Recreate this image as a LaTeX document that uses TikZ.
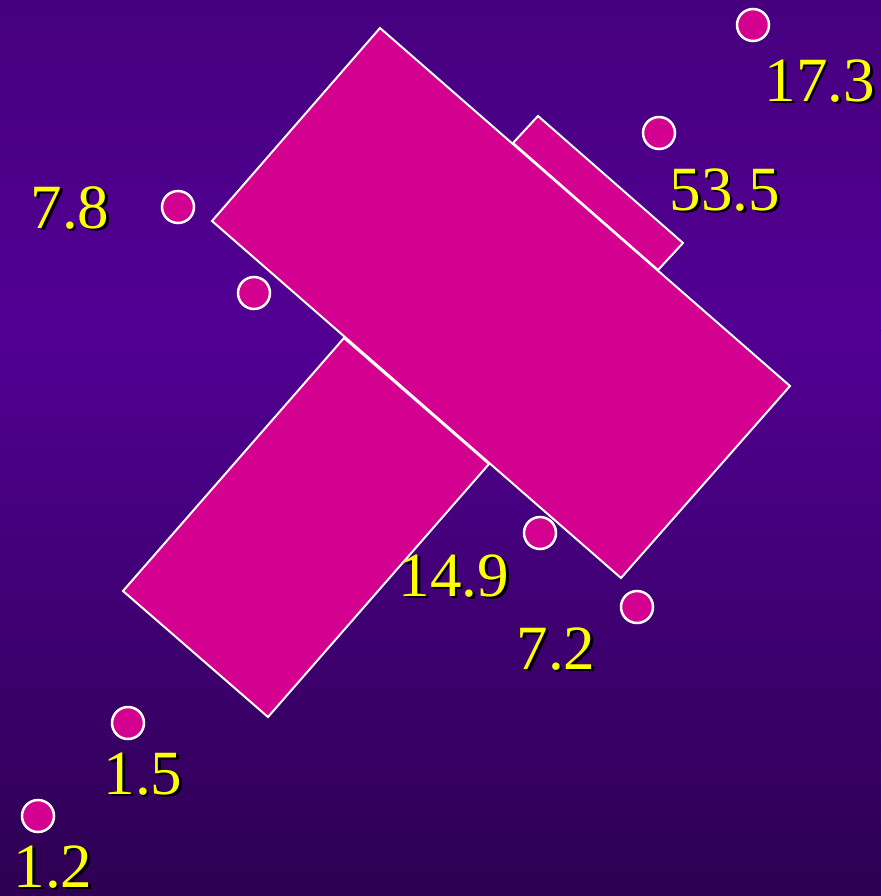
\documentclass[tikz,border=0pt]{standalone}
\usepackage{fontspec}
\setmainfont{Liberation Serif}
\usepackage{xcolor}
\usepackage{tikz}
\usetikzlibrary{positioning}
\definecolor{bgtop}{RGB}{70,0,126}
\definecolor{bgmid}{RGB}{82,0,148}
\definecolor{bgbot}{RGB}{45,0,82}
\definecolor{slab}{RGB}{212,0,143}
\definecolor{numyel}{RGB}{255,255,0}
\newcommand{\dropnum}[1]{\rlap{\kern2.5pt\raisebox{-2.5pt}{\color{black}#1}}#1}

\begin{document}
\begin{tikzpicture}[x=1pt, y=-1pt,
    slabpart/.style={fill=slab, draw=white, line width=2pt, line join=miter},
    dot/.style={circle, fill=slab, draw=white, line width=2.5pt, minimum size=32pt, inner sep=0pt},
    num/.style={text=numyel, font=\fontsize{63}{63}\selectfont, inner sep=0pt},
]
    % background
    \useasboundingbox (0,0) rectangle (881,896);
    \shade[top color=bgtop, bottom color=bgmid] (0,0) rectangle (881,331);
    \shade[top color=bgmid, bottom color=bgbot] (0,329) rectangle (881,896);

    % slabs
    \draw[slabpart] (344,338) -- (489,464) -- (268,717) -- (123,591) -- cycle;
    \draw[slabpart] (513,143) -- (538,116) -- (683,243) -- (658,270) -- cycle;
    \draw[slabpart] (380,28) -- (790,386) -- (621,578) -- (212,221) -- cycle;

    % dots and values
    \node[dot] (d173) at (753,25) {};
    \node[dot] (d535) at (659,133) {};
    \node[dot] (d78) at (178,207) {};
    \node[dot] (d78b) at (254,293) {};
    \node[dot] (d149) at (540,533) {};
    \node[dot] (d72) at (637,607) {};
    \node[dot] (d15) at (128,723) {};
    \node[dot] (d12) at (38,816) {};

    \node[num] (n173) at (820,82) {\dropnum{17.3}};
    \node[num] (n535) at (725,191) {\dropnum{53.5}};
    \node[num] (n78) at (70,209) {\dropnum{7.8}};
    \node[num] (n149) at (454,577) {\dropnum{14.9}};
    \node[num] (n72) at (556,650) {\dropnum{7.2}};
    \node[num] (n15) at (143,775) {\dropnum{1.5}};
    \node[num] (n12) at (53,868) {\dropnum{1.2}};
\end{tikzpicture}
\end{document}
